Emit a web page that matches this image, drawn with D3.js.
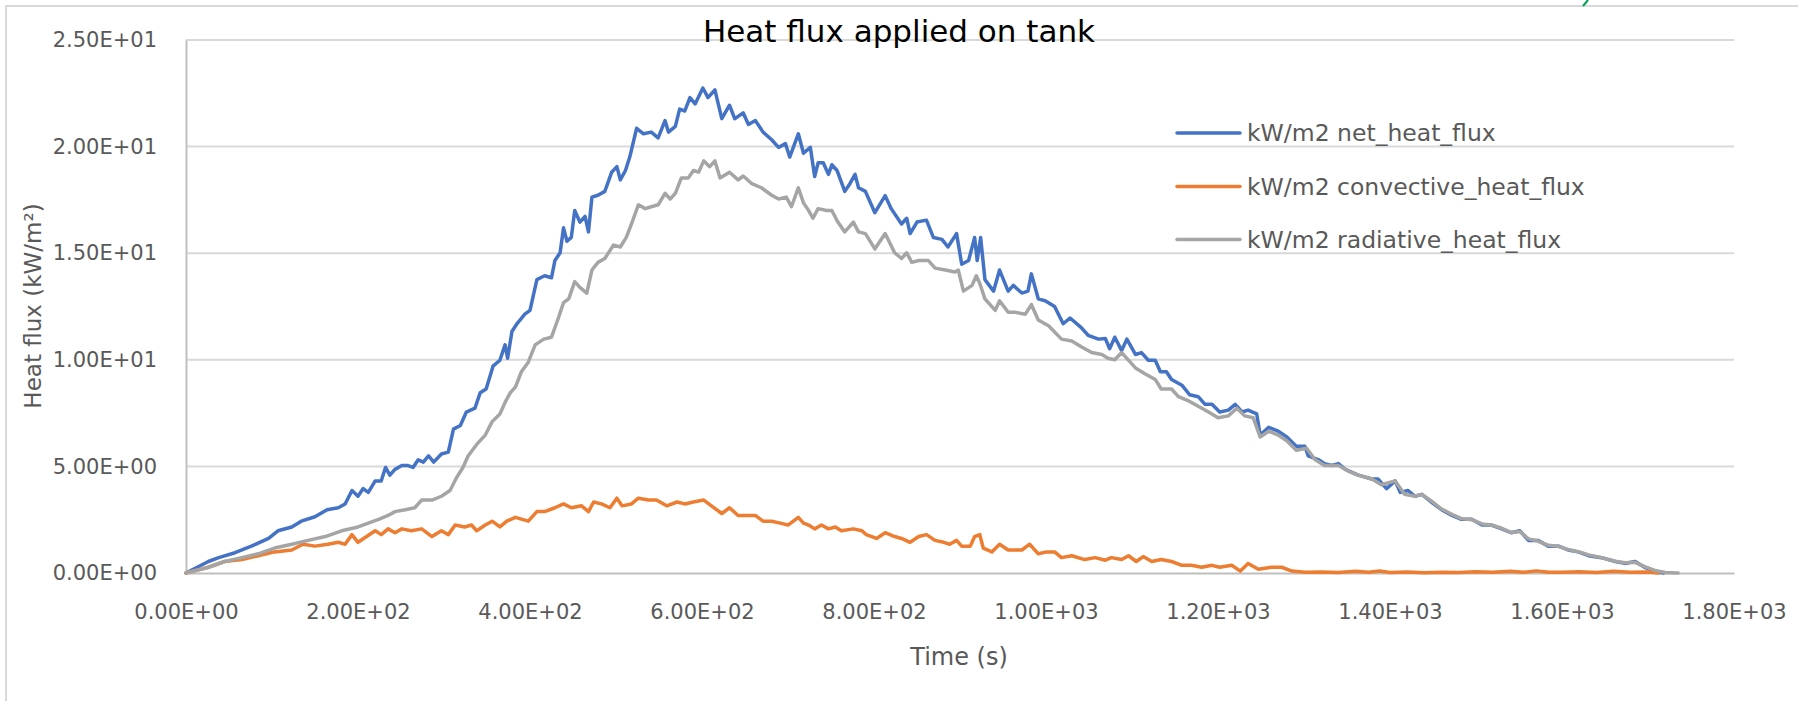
<!DOCTYPE html>
<html>
<head>
<meta charset="utf-8">
<script src="https://cdn.jsdelivr.net/npm/d3@7"></script>
<style>
  html, body { margin: 0; padding: 0; background: #fff; }
  svg { display: block; }
  text { font-family: "DejaVu Sans", sans-serif; }
</style>
</head>
<body>
<svg id="chart" width="1798" height="701"></svg>
<script>
// ---------------- data ----------------
const chartTitle = "Heat flux applied on tank";
const xTitle = "Time (s)";
const yTitle = "Heat flux (kW/m\u00B2)";
const xTicks = [0, 200, 400, 600, 800, 1000, 1200, 1400, 1600, 1800];
const yTicks = [0, 5, 10, 15, 20, 25];
const seriesNames = ["kW/m2 net_heat_flux", "kW/m2 convective_heat_flux", "kW/m2 radiative_heat_flux"];
const seriesColors = ["#4472C4", "#ED7D31", "#A5A5A5"];

const netT = [0,26,38,57,76,96,107,123,134,150,164,177,185,193,200,206,212,220,227,232,237,243,251,258,264,270,276,282,288,297,305,311,319,326,336,342,349,357,365,371,374,379,385,394,400,408,417,425,429,435,439,443,448,452,458,464,468,472,479,487,495,501,505,511,516,524,532,541,549,557,561,569,574,580,586,592,601,607,615,623,632,638,648,654,662,671,681,689,697,702,712,718,726,731,735,741,747,751,757,766,772,778,782,790,801,813,820,832,838,842,850,861,869,879,886,896,902,910,917,920,924,929,939,946,956,962,972,979,983,991,999,1010,1020,1028,1041,1049,1061,1069,1074,1080,1088,1094,1104,1111,1119,1127,1133,1140,1146,1158,1167,1177,1185,1193,1202,1212,1220,1228,1235,1245,1249,1259,1270,1280,1291,1301,1305,1317,1324,1332,1340,1348,1363,1379,1386,1396,1406,1412,1421,1429,1437,1448,1460,1472,1483,1495,1507,1518,1530,1541,1551,1561,1572,1584,1596,1607,1619,1631,1646,1662,1673,1685,1696,1708,1718];
const netV = [0,0.54,0.72,0.95,1.26,1.62,1.98,2.16,2.43,2.64,2.97,3.06,3.24,3.87,3.6,3.96,3.78,4.32,4.32,4.95,4.59,4.86,5.04,5.04,4.95,5.31,5.2,5.5,5.2,5.58,5.67,6.75,6.92,7.55,7.73,8.45,8.63,9.7,9.98,10.7,10.07,11.33,11.7,12.14,12.32,13.76,13.94,13.85,14.66,15.02,16.19,15.56,15.74,17.0,16.46,16.73,16.0,17.63,17.72,17.9,18.8,19.06,18.44,18.88,19.51,20.86,20.6,20.68,20.41,21.22,20.68,20.95,21.76,21.67,22.3,22.0,22.75,22.3,22.66,21.31,21.94,21.31,21.58,21.04,21.22,20.68,20.32,19.96,20.14,19.51,20.6,19.69,19.96,18.6,19.24,19.24,18.7,19.15,18.88,17.9,18.26,18.7,18.07,17.9,16.9,17.7,17.09,16.37,16.64,15.92,16.46,16.55,15.74,15.65,15.29,15.92,14.48,14.66,15.74,14.66,15.74,13.76,13.22,14.21,13.22,13.49,13.13,13.22,14.03,12.86,12.77,12.5,11.69,11.96,11.51,11.15,10.97,11.0,10.52,11.06,10.43,10.97,10.25,10.34,9.98,9.98,9.44,9.44,9.08,8.81,8.36,8.27,7.91,7.91,7.55,7.64,7.91,7.55,7.64,7.46,6.47,6.83,6.65,6.38,5.94,5.94,5.49,5.31,5.13,5.04,5.13,4.86,4.59,4.41,4.41,3.96,4.32,3.78,3.87,3.6,3.69,3.33,2.97,2.7,2.52,2.52,2.25,2.25,2.07,1.89,1.98,1.53,1.53,1.26,1.26,1.08,0.99,0.81,0.72,0.54,0.45,0.54,0.27,0.09,0];

const convT = [0,26,45,65,84,103,123,136,150,165,177,185,193,200,210,220,227,235,243,251,262,274,286,297,305,313,324,332,338,348,356,365,373,383,398,408,417,429,439,448,460,468,474,483,493,501,507,518,526,538,547,559,571,580,590,602,611,623,632,642,654,662,671,681,691,700,712,718,724,731,739,747,755,762,776,786,791,803,813,824,832,842,852,861,871,881,888,896,902,912,917,923,927,937,946,956,972,981,991,1001,1010,1018,1030,1045,1057,1069,1076,1088,1096,1105,1113,1123,1134,1146,1158,1169,1181,1193,1202,1216,1226,1235,1247,1262,1274,1286,1301,1321,1340,1360,1375,1388,1400,1420,1440,1460,1480,1500,1520,1540,1555,1570,1585,1600,1620,1640,1660,1680,1700,1712];
const convV = [0,0.27,0.54,0.63,0.81,0.99,1.08,1.35,1.26,1.35,1.44,1.35,1.8,1.44,1.71,1.98,1.8,2.07,1.89,2.07,1.98,2.07,1.71,1.98,1.8,2.25,2.16,2.25,1.98,2.25,2.43,2.16,2.43,2.61,2.43,2.88,2.88,3.06,3.24,3.06,3.15,2.88,3.33,3.24,3.06,3.51,3.15,3.24,3.51,3.42,3.42,3.15,3.33,3.24,3.33,3.42,3.15,2.79,3.06,2.7,2.7,2.7,2.43,2.43,2.34,2.25,2.61,2.34,2.25,2.07,2.25,2.07,2.16,1.98,2.07,1.98,1.8,1.62,1.89,1.71,1.62,1.44,1.71,1.8,1.53,1.44,1.35,1.53,1.26,1.26,1.71,1.8,1.17,0.99,1.35,1.08,1.08,1.35,0.9,0.99,0.99,0.72,0.81,0.63,0.72,0.6,0.72,0.63,0.81,0.54,0.77,0.54,0.63,0.54,0.36,0.36,0.27,0.36,0.27,0.36,0.09,0.45,0.18,0.27,0.27,0.09,0.04,0.05,0.02,0.08,0.03,0.09,0.02,0.05,0.01,0.04,0.02,0.06,0.03,0.08,0.03,0.1,0.04,0.03,0.06,0.02,0.08,0.04,0.05,0];

const radT = [0,26,45,65,84,103,123,142,162,181,200,212,224,235,243,255,266,274,286,297,307,315,322,328,338,348,356,365,371,377,383,390,398,406,416,425,433,439,445,452,458,466,472,479,487,497,505,512,518,526,534,541,549,557,563,569,576,584,590,596,602,609,615,621,632,642,648,658,669,681,689,698,704,712,718,724,729,735,745,751,758,766,776,782,790,801,813,824,832,838,844,852,863,871,883,894,898,904,914,919,923,929,941,946,956,964,976,983,991,1003,1018,1030,1041,1053,1065,1072,1080,1088,1094,1104,1115,1127,1134,1146,1154,1165,1177,1189,1200,1212,1222,1231,1241,1249,1259,1270,1280,1291,1303,1313,1324,1340,1352,1363,1379,1390,1406,1417,1429,1437,1448,1460,1472,1483,1495,1507,1518,1530,1541,1551,1561,1572,1584,1596,1607,1619,1631,1646,1662,1673,1685,1696,1708,1720,1735];
const radV = [0,0.27,0.54,0.72,0.9,1.17,1.35,1.53,1.71,1.98,2.16,2.34,2.52,2.7,2.88,2.97,3.06,3.42,3.42,3.6,3.87,4.5,4.95,5.49,6.03,6.47,7.1,7.46,8.0,8.45,8.72,9.44,9.89,10.7,10.97,11.06,11.96,12.68,12.86,13.67,13.4,13.13,14.21,14.57,14.75,15.38,15.29,15.74,16.37,17.27,17.09,17.18,17.27,17.81,17.54,17.81,18.53,18.53,18.88,18.8,19.33,19.06,19.33,18.53,18.8,18.44,18.62,18.26,18.07,17.72,17.54,17.63,17.18,18.07,17.36,17.0,16.64,17.09,17.0,17.0,16.46,16.0,16.46,16.0,15.92,15.2,15.92,15.02,14.75,15.02,14.57,14.66,14.66,14.3,14.21,14.12,14.21,13.22,13.49,13.94,13.58,12.86,12.32,12.77,12.23,12.23,12.14,12.59,11.87,11.6,10.97,10.88,10.61,10.34,10.25,10.07,10.0,10.34,10.07,9.62,9.35,9.08,8.63,8.63,8.27,8.09,7.82,7.55,7.28,7.37,7.73,7.37,7.28,6.38,6.65,6.47,6.2,5.76,5.85,5.31,5.04,5.04,4.77,4.59,4.41,4.14,4.32,3.69,3.6,3.69,3.38,3.0,2.75,2.55,2.5,2.3,2.25,2.1,1.9,1.95,1.6,1.5,1.3,1.25,1.1,1.0,0.85,0.72,0.55,0.48,0.5,0.3,0.12,0.02,0];

// ---------------- drawing ----------------
const svg = d3.select("#chart");
const plot = { left: 186, right: 1734, top: 40, bottom: 573 };

const x = d3.scaleLinear().domain([0, 1800]).range([plot.left, plot.right]);
const y = d3.scaleLinear().domain([0, 25]).range([plot.bottom, plot.top]);

function sci(v) {
  const s = v.toExponential(2);
  const parts = s.split("e");
  const e = +parts[1];
  const sign = e < 0 ? "-" : "+";
  const n = Math.abs(e);
  return parts[0] + "E" + sign + (n < 10 ? "0" : "") + n;
}

// outer chart border (extends past the captured area on right/bottom)
svg.append("rect")
  .attr("x", 6).attr("y", 6).attr("width", 2000).attr("height", 1000)
  .attr("fill", "none").attr("stroke", "#d9d9d9").attr("stroke-width", 2);

// small green mark at the top edge
svg.append("line")
  .attr("x1", 1583).attr("y1", 6).attr("x2", 1588).attr("y2", 0)
  .attr("stroke", "#00a050").attr("stroke-width", 2);

// gridlines
svg.append("g").selectAll("line")
  .data(yTicks.filter(d => d > 0))
  .join("line")
  .attr("x1", plot.left).attr("x2", plot.right)
  .attr("y1", d => y(d)).attr("y2", d => y(d))
  .attr("stroke", "#d9d9d9").attr("stroke-width", 2);

// y axis
const yAxis = svg.append("g")
  .attr("transform", `translate(${plot.left},0)`)
  .call(d3.axisLeft(y).tickValues(yTicks).tickSize(0).tickPadding(29).tickFormat(sci));
yAxis.select(".domain").attr("stroke", "#bfbfbf").attr("stroke-width", 2);
yAxis.selectAll("text").attr("fill", "#595959").style("font-size", "21px")
  .style("font-family", "DejaVu Sans");

// x axis
const xAxis = svg.append("g")
  .attr("transform", `translate(0,${plot.bottom})`)
  .call(d3.axisBottom(x).tickValues(xTicks).tickSize(0).tickPadding(31).tickFormat(sci));
xAxis.select(".domain").attr("stroke", "#bfbfbf").attr("stroke-width", 2);
xAxis.selectAll("text").attr("fill", "#595959").style("font-size", "21px")
  .style("font-family", "DejaVu Sans");

// series
const series = [
  { t: netT, v: netV },
  { t: convT, v: convV },
  { t: radT, v: radV }
];
const line = d3.line().x(d => x(d[0])).y(d => y(d[1]));
series.forEach((s, i) => {
  const pts = s.t.map((t, k) => [t, s.v[k]]);
  svg.append("path")
    .datum(pts)
    .attr("d", line)
    .attr("fill", "none")
    .attr("stroke", seriesColors[i])
    .attr("stroke-width", 3.5)
    .attr("stroke-linejoin", "round")
    .attr("stroke-linecap", "round");
});

// title
svg.append("text")
  .attr("x", 899).attr("y", 42)
  .attr("text-anchor", "middle")
  .attr("fill", "#000")
  .style("font-size", "31px")
  .text(chartTitle);

// axis titles
svg.append("text")
  .attr("x", 959).attr("y", 657).attr("dy", "0.35em")
  .attr("text-anchor", "middle")
  .attr("fill", "#595959")
  .style("font-size", "24px")
  .text(xTitle);

svg.append("text")
  .attr("transform", "translate(33,306) rotate(-90)")
  .attr("dy", "0.35em")
  .attr("text-anchor", "middle")
  .attr("fill", "#595959")
  .style("font-size", "23px")
  .text(yTitle);

// legend
const legendRows = [133, 186.5, 239.6];
const lg = svg.append("g");
seriesNames.forEach((name, i) => {
  lg.append("line")
    .attr("x1", 1177).attr("x2", 1240)
    .attr("y1", legendRows[i]).attr("y2", legendRows[i])
    .attr("stroke", seriesColors[i]).attr("stroke-width", 3.5)
    .attr("stroke-linecap", "round");
  lg.append("text")
    .attr("x", 1247).attr("y", legendRows[i]).attr("dy", "0.35em")
    .attr("fill", "#595959")
    .style("font-size", "23.5px")
    .text(name);
});
</script>
</body>
</html>
